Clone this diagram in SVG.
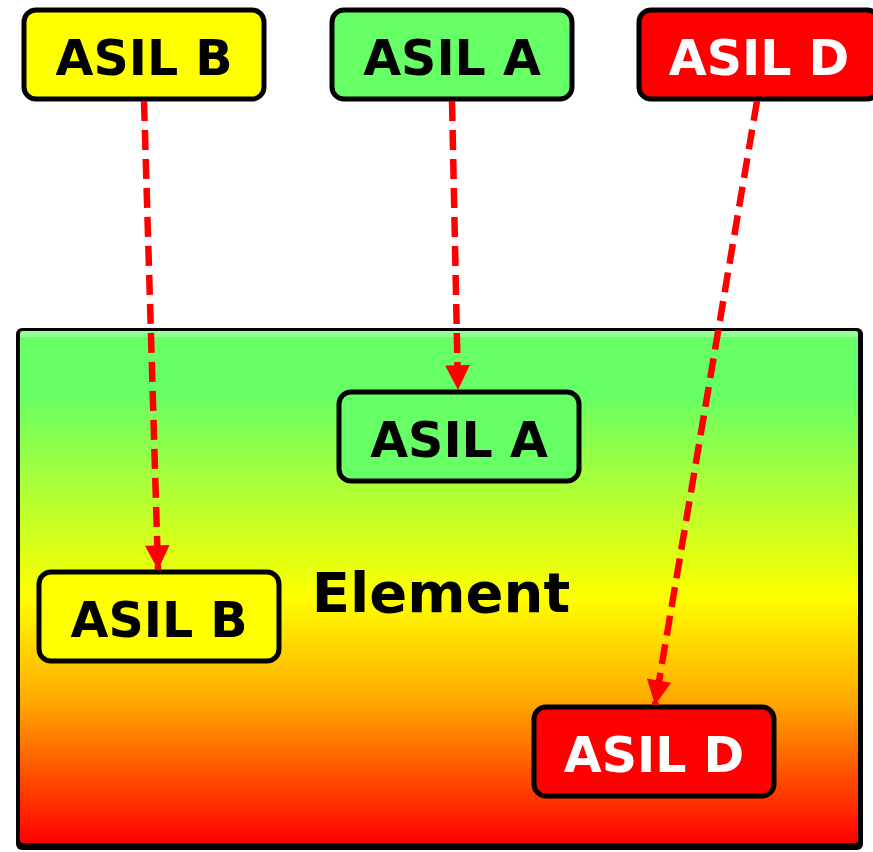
<svg xmlns="http://www.w3.org/2000/svg" width="873" height="852" viewBox="0 0 873 852">
<defs>
<linearGradient id="g" x1="0" y1="0" x2="0" y2="1">
<stop offset="0" stop-color="#66ff66"/>
<stop offset="0.12" stop-color="#66ff66"/>
<stop offset="0.52" stop-color="#ffff00"/>
<stop offset="0.72" stop-color="#ffaa00"/>
<stop offset="1" stop-color="#ff0000"/>
</linearGradient>
<marker id="ah" viewBox="0 0 10 10" refX="10" refY="5" markerWidth="4" markerHeight="3.8" orient="auto" markerUnits="strokeWidth">
<path d="M0,0 L10,5 L0,10 z" fill="#ff0000"/>
</marker>
<style>
.box{stroke:#000;stroke-width:5}
.lbl{font-family:"DejaVu Sans","Verdana",sans-serif;font-weight:bold;font-size:49px;text-anchor:middle}
.big{font-size:56px}
.conn{stroke:#ff0000;stroke-width:6.5;stroke-dasharray:20 9;fill:none}
</style>
</defs>
<g id="element">
<rect x="16" y="328" width="847" height="522" rx="6" fill="#000"/>
<rect x="20" y="331" width="838" height="512" rx="3" fill="url(#g)"/>
<rect x="20" y="331" width="838" height="6" fill="#ffffff" opacity="0.3"/>
<text x="441" y="612" class="lbl big">Element</text>
</g>
<g id="top-b">
<rect class="box" x="24" y="10" width="240" height="89" rx="12" fill="#ffff00"/>
<text class="lbl" x="144" y="75">ASIL B</text>
</g>
<g id="top-a">
<rect class="box" x="332" y="10" width="240" height="89" rx="12" fill="#66ff66"/>
<text class="lbl" x="452" y="75">ASIL A</text>
</g>
<g id="top-d">
<rect class="box" x="639" y="10" width="240" height="89" rx="12" fill="#ff0000"/>
<text class="lbl" x="759" y="75" fill="#fff">ASIL D</text>
</g>
<g id="in-a">
<rect class="box" x="339" y="392" width="240" height="89" rx="12" fill="#66ff66"/>
<text class="lbl" x="459" y="457">ASIL A</text>
</g>
<g id="in-b">
<rect class="box" x="39" y="572" width="240" height="89" rx="12" fill="#ffff00"/>
<text class="lbl" x="159" y="637">ASIL B</text>
</g>
<g id="in-d">
<rect class="box" x="534" y="707" width="240" height="89" rx="12" fill="#ff0000"/>
<text class="lbl" x="654" y="772" fill="#fff">ASIL D</text>
</g>
<g id="connectors">
<path class="conn" d="M144,101 L158,570" marker-end="url(#ah)"/>
<path class="conn" d="M452,101 L458,390" marker-end="url(#ah)"/>
<path class="conn" d="M757,101 L655,705" marker-end="url(#ah)"/>
</g>
</svg>
